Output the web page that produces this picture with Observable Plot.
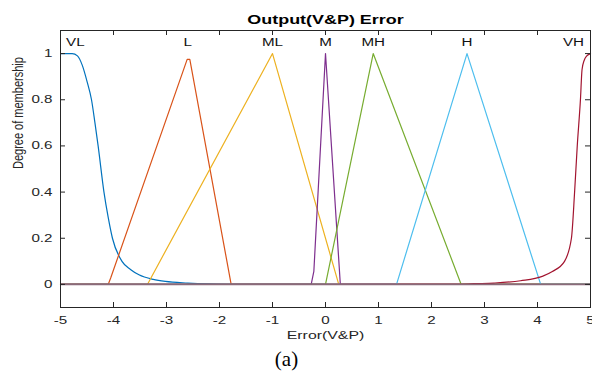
<!DOCTYPE html>
<html>
<head>
<meta charset="utf-8">
<script src="https://cdn.jsdelivr.net/npm/d3@7"></script>
<script src="https://cdn.jsdelivr.net/npm/@observablehq/plot@0.6"></script>
<style>
  html, body { margin: 0; padding: 0; background: #fff; }
</style>
</head>
<body>
<div id="chart"></div>
<script>
// ---- data ----
const X_TICKS = [-5, -4, -3, -2, -1, 0, 1, 2, 3, 4, 5];
const Y_TICKS = [0, 0.2, 0.4, 0.6, 0.8, 1];
const NAMES = ["VL", "L", "ML", "M", "MH", "H", "VH"];
const COLORS = ["#0072BD", "#D95319", "#EDB120", "#7E2F8E", "#77AC30", "#4DBEEE", "#A2142F"];
const LABEL_X = [-4.72, -2.6, -1, 0, 0.9, 2.67, 4.68];

const vlX = [-5, -4.78, -4.68, -4.59, -4.5, -4.415, -4.35, -4.29, -4.18, -4.1, -4.02, -3.84, -3.68, -3.52, -3.25, -3.02, -2.6, -2.2, -1.8, 5];
const vlY = [1, 1, 0.99, 0.95, 0.88, 0.8, 0.7, 0.6, 0.4, 0.29, 0.2, 0.1, 0.065, 0.042, 0.022, 0.013, 0.006, 0.002, 0, 0];
const lX = [-5, -4.1, -4.05, -2.61, -2.56, -1.78, 5];
const lY = [0, 0, 0.03, 0.975, 0.975, 0, 0];
const mlX = [-5, -3.36, -1, 0.25, 5];
const mlY = [0, 0, 1, 0, 0];
const mX = [-5, -0.27, -0.22, 0, 0.28, 5];
const mY = [0, 0, 0.056, 1, 0, 0];
const mhX = [-5, 0, 0.9, 2.56, 5];
const mhY = [0, 0, 1, 0, 0];
const hX = [-5, 1.34, 2.67, 4.06, 5];
const hY = [0, 0, 1, 0, 0];
const vhX = [-5, 2.5, 2.8, 3.18, 3.68, 4.09, 4.28, 4.51, 4.64, 4.7, 4.75, 4.81, 4.84, 4.88, 4.93, 5];
const vhY = [0, 0, 0.003, 0.006, 0.016, 0.035, 0.056, 0.1, 0.2, 0.4, 0.6, 0.8, 0.93, 0.97, 0.99, 1];

// ---- build tables ----
const seriesXY = [[vlX, vlY], [lX, lY], [mlX, mlY], [mX, mY], [mhX, mhY], [hX, hY], [vhX, vhY]];
const SMOOTH = new Set(["VL", "VH"]);
const smoothRows = [], straightRows = [];
seriesXY.forEach(([xs, ys], k) => {
  const target = SMOOTH.has(NAMES[k]) ? smoothRows : straightRows;
  xs.forEach((x, i) => target.push({name: NAMES[k], x, y: ys[i]}));
});
const labels = NAMES.map((n, i) => ({name: n, x: LABEL_X[i]}));

const W = 592, H = 373;
const ML = 60, MR = 2, MT = 30, MB = 66;
const innerW = W - ML - MR, innerH = H - MT - MB;
const TICK = 5;
const INK = "#262626";

const chart = Plot.plot({
  width: W,
  height: H,
  marginLeft: ML,
  marginRight: MR,
  marginTop: MT,
  marginBottom: MB,
  style: {fontFamily: "'Liberation Sans', Arial, sans-serif", fontSize: "11px", color: INK, background: "#fff"},
  x: {domain: [-5, 5]},
  y: {domain: [-0.1, 1.1]},
  color: {domain: NAMES, range: COLORS},
  marks: [
    Plot.line(smoothRows.filter(d => d.name === "VL"), {x: "x", y: "y", z: "name", stroke: "name", strokeWidth: 1.2, curve: "monotone-x"}),
    Plot.line(straightRows, {x: "x", y: "y", z: "name", stroke: "name", strokeWidth: 1.2, curve: "linear"}),
    Plot.line(smoothRows.filter(d => d.name === "VH"), {x: "x", y: "y", z: "name", stroke: "name", strokeWidth: 1.2, curve: "monotone-x"}),
    Plot.ruleY([0], {stroke: "#8a6a7a", strokeWidth: 1.6}),
    Plot.frame({stroke: INK, strokeWidth: 1}),
    // inward ticks on all four sides
    Plot.tickX(X_TICKS, {x: d => d, insetTop: innerH - TICK, stroke: INK}),
    Plot.tickX(X_TICKS, {x: d => d, insetBottom: innerH - TICK, stroke: INK}),
    Plot.tickY(Y_TICKS, {y: d => d, insetRight: innerW - TICK, stroke: INK}),
    Plot.tickY(Y_TICKS, {y: d => d, insetLeft: innerW - TICK, stroke: INK}),
    Plot.axisX({ticks: X_TICKS, tickSize: 0, tickPadding: 9, label: null, tickFormat: d => String(d), fontSize: 11, fill: INK}),
    Plot.axisY({ticks: Y_TICKS, tickSize: 0, tickPadding: 8, label: null, tickFormat: d => String(d), fontSize: 11, fill: INK}),
    Plot.text(labels, {x: "x", text: "name", frameAnchor: "top", lineAnchor: "middle", dy: 12, fontSize: 11, fill: "#111"}),
    Plot.text(["Output(V&P) Error"], {frameAnchor: "top", lineAnchor: "middle", dy: -10.5, fontWeight: "bold", fontSize: 13, fill: "#000"}),
    Plot.text(["Error(V&P)"], {frameAnchor: "bottom", lineAnchor: "middle", dy: 28, fontSize: 11.5, fill: INK}),
    Plot.text(["Degree of membership"], {frameAnchor: "left", lineAnchor: "middle", dx: -42, rotate: -90, fontSize: 11, fill: INK}),
    Plot.text(["(a)"], {frameAnchor: "bottom", lineAnchor: "middle", dx: -39, dy: 52, fontSize: 21, fontFamily: "'Liberation Serif', 'Times New Roman', serif", fill: "#000"})
  ]
});

// the reference is stretched horizontally: widen the sans-serif texts about their anchors
const SX = 1.38;
chart.querySelectorAll("text").forEach(t => {
  if (t.textContent === "(a)") return;
  let tr = t.getAttribute("transform") || "";
  if (tr.includes("rotate")) tr = tr.replace("rotate", `scale(${SX},1) rotate`);
  else tr = tr + ` scale(${SX},1)`;
  t.setAttribute("transform", tr);
});

document.getElementById("chart").appendChild(chart);
</script>
</body>
</html>
